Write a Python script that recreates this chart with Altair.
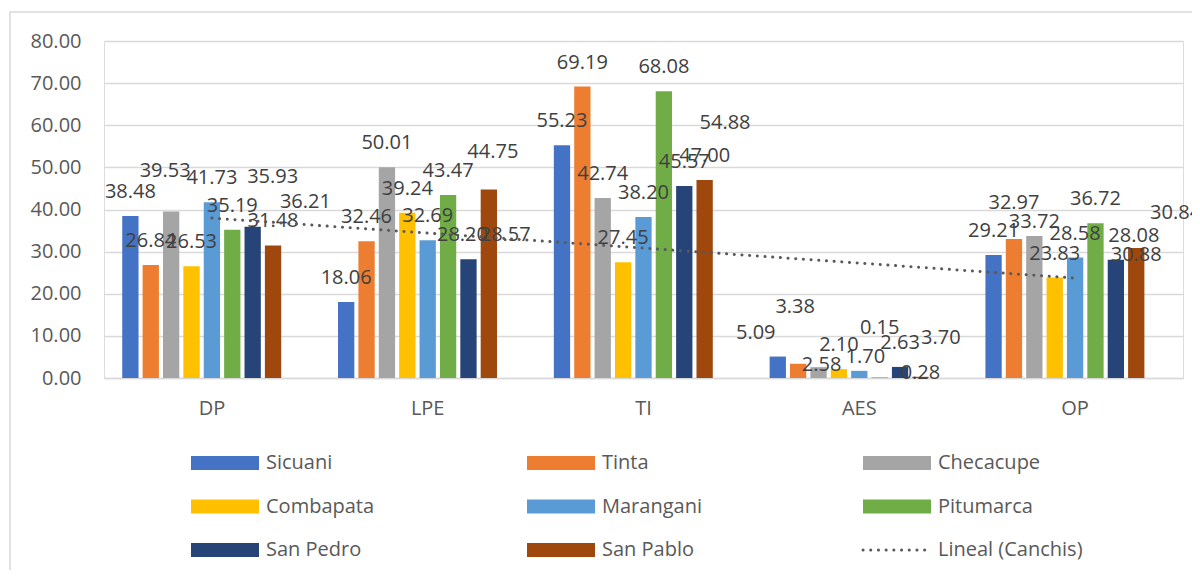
import json
import altair as alt
import pandas as pd

# ---------------- data ----------------
categories = ["DP", "LPE", "TI", "AES", "OP"]
series_names = ["Sicuani", "Tinta", "Checacupe", "Combapata", "Marangani",
                "Pitumarca", "San Pedro", "San Pablo", "Canchis"]
bar_series = series_names[:-1]
bar_colors = ["#4472C4", "#ED7D31", "#A5A5A5", "#FFC000", "#5B9BD5",
              "#70AD47", "#264478", "#9E480E"]

sicuani = [38.48, 18.06, 55.23, 5.09, 29.21]
tinta = [26.84, 32.46, 69.19, 3.38, 32.97]
checacupe = [39.53, 50.01, 42.74, 2.58, 33.72]
combapata = [26.53, 39.24, 27.45, 2.10, 23.83]
marangani = [41.73, 32.69, 38.20, 1.70, 28.58]
pitumarca = [35.19, 43.47, 68.08, 0.15, 36.72]
san_pedro = [35.93, 28.20, 45.57, 2.63, 28.08]
san_pablo = [31.48, 44.75, 47.00, 0.28, 30.88]
canchis = [36.21, 28.57, 54.88, 3.70, 30.84]

legend_entries = ["Sicuani", "Tinta", "Checacupe", "Combapata", "Marangani",
                  "Pitumarca", "San Pedro", "San Pablo", "Lineal (Canchis)"]
y_ticks = [0, 10, 20, 30, 40, 50, 60, 70, 80]

# label nudges (pixels) for the data labels that sit away from the default spot
label_nudges = [
    ("DP", "Checacupe", -6, -16), ("DP", "San Pedro", 20, -26), ("DP", "Canchis", 12, 1),
    ("LPE", "San Pedro", -6, 0), ("LPE", "San Pablo", 4, -13), ("LPE", "Canchis", -4, 1),
    ("AES", "Sicuani", -22, 0), ("AES", "Tinta", -3, -33), ("AES", "Checacupe", 3, 22),
    ("AES", "Marangani", 6, 10), ("AES", "Pitumarca", 0, -25), ("AES", "San Pablo", 0, 20),
    ("OP", "Tinta", 0, -12), ("OP", "Checacupe", 0, 10), ("OP", "San Pedro", 18, 0),
    ("OP", "San Pablo", 0, 31), ("OP", "Canchis", 19, -11),
]

# ---------------- tables ----------------
all_values = [sicuani, tinta, checacupe, combapata, marangani,
              pitumarca, san_pedro, san_pablo, canchis]
rows = []
for s, vals in zip(series_names, all_values):
    for i, (c, v) in enumerate(zip(categories, vals)):
        rows.append({"cat": c, "series": s, "value": v, "idx": i + 1})
df = pd.DataFrame(rows)
df["key"] = df["cat"] + "|" + df["series"]
bars_df = df[df["series"] != "Canchis"]
canchis_df = df[df["series"] == "Canchis"]
nudged_keys = [c + "|" + s for c, s, _, _ in label_nudges]
base_labels_df = df[~df["key"].isin(nudged_keys)]

leg_rows = []
for i, name in enumerate(legend_entries):
    leg_rows.append({"series": name, "col": i % 3, "row": i // 3,
                     "kind": "trend" if name.startswith("Lineal") else "bar"})
leg_df = pd.DataFrame(leg_rows)

FONT = "Open Sans"
GRID = "#d9d9d9"
LABEL_DY = -24

x_enc = alt.X("cat:N",
              scale=alt.Scale(domain=categories, paddingInner=0.15, paddingOuter=0.075),
              axis=alt.Axis(title=None, labelFontSize=20, labelColor="#595959",
                            labelFont=FONT, ticks=False, tickSize=0,
                            domainColor=GRID, domainWidth=1.3,
                            labelPadding=20, labelAngle=0, grid=False))
xoff_enc = alt.XOffset("series:N",
                       scale=alt.Scale(domain=series_names, paddingInner=0.2, paddingOuter=0.1))
y_enc = alt.Y("value:Q", scale=alt.Scale(domain=[0, 80]),
              axis=alt.Axis(title=None, values=y_ticks, format=".2f",
                            labelFontSize=20, labelColor="#595959", labelFont=FONT,
                            ticks=False, tickSize=0, domain=False,
                            gridColor=GRID, gridWidth=1.3, labelPadding=23))
color_scale = alt.Scale(domain=bar_series, range=bar_colors)

bars = alt.Chart(bars_df).mark_bar().encode(
    x=x_enc, xOffset=xoff_enc, y=y_enc,
    color=alt.Color("series:N", scale=color_scale, legend=None),
)


def label_layer(data, dx=0, dy=0):
    return alt.Chart(data).mark_text(
        dx=dx, dy=LABEL_DY + dy, fontSize=20, color="#404040", font=FONT).encode(
        x=alt.X("cat:N"), xOffset=alt.XOffset("series:N"), y=alt.Y("value:Q"),
        text=alt.Text("value:Q", format=".2f"))


label_layers = [label_layer(base_labels_df)]
for c, s, ndx, ndy in label_nudges:
    label_layers.append(label_layer(df[df["key"] == c + "|" + s], ndx, ndy))

cat_expr = json.dumps(categories) + "[round(datum.idx) - 1]"
trend = (alt.Chart(canchis_df)
         .transform_regression("idx", "value", method="linear")
         .transform_calculate(cat=cat_expr)
         .mark_line(color="#595959", strokeWidth=3, strokeDash=[0.1, 7.6], strokeCap="round")
         .encode(x=alt.X("cat:N"), y=alt.Y("value:Q")))

main = alt.layer(bars, *label_layers, trend)

# ---------------- legend (drawn below the plot) ----------------
lx = alt.X("col:Q", scale=alt.Scale(domain=[0, 2], range=[121, 793]), axis=None)
ly = alt.Y("row:Q", scale=alt.Scale(domain=[0, 2], range=[422, 509]), axis=None)

swatches = (alt.Chart(leg_df).transform_filter("datum.kind == 'bar'")
            .mark_point(shape="M-1,-0.206L1,-0.206L1,0.206L-1,0.206Z", filled=True,
                        size=4624, opacity=1, strokeWidth=0)
            .encode(x=lx, y=ly, color=alt.Color("series:N", scale=color_scale, legend=None)))
dotted = (alt.Chart(leg_df).transform_filter("datum.kind == 'trend'")
          .mark_point(shape="M-1,0L1,0", filled=False, size=4624, opacity=1,
                      color="#595959", stroke="#595959", strokeWidth=3,
                      strokeDash=[0.1, 7.6], strokeCap="round")
          .encode(x=lx, y=ly))
leg_text = (alt.Chart(leg_df)
            .mark_text(align="left", baseline="middle", dx=41, fontSize=20,
                       color="#595959", font=FONT)
            .encode(x=lx, y=ly, text="series:N"))

legend = alt.layer(swatches, dotted, leg_text)

frame = alt.Chart(pd.DataFrame({"a": [0]})).mark_rect(
    filled=False, stroke=GRID, strokeWidth=1.5).encode(
    x=alt.value(-94), x2=alt.value(1300), y=alt.value(-29), y2=alt.value(700))

chart = (alt.layer(frame, main, legend)
         .resolve_scale(x="independent", y="independent")
         .properties(width=1079, height=337,
                     autosize=alt.AutoSizeParams(type="none"),
                     padding={"left": 96, "top": 33, "right": 9, "bottom": 192})
         .configure_view(stroke=None)
         .configure(background="white"))

chart.save("out.html", embed_options={"renderer": "svg", "actions": False})
